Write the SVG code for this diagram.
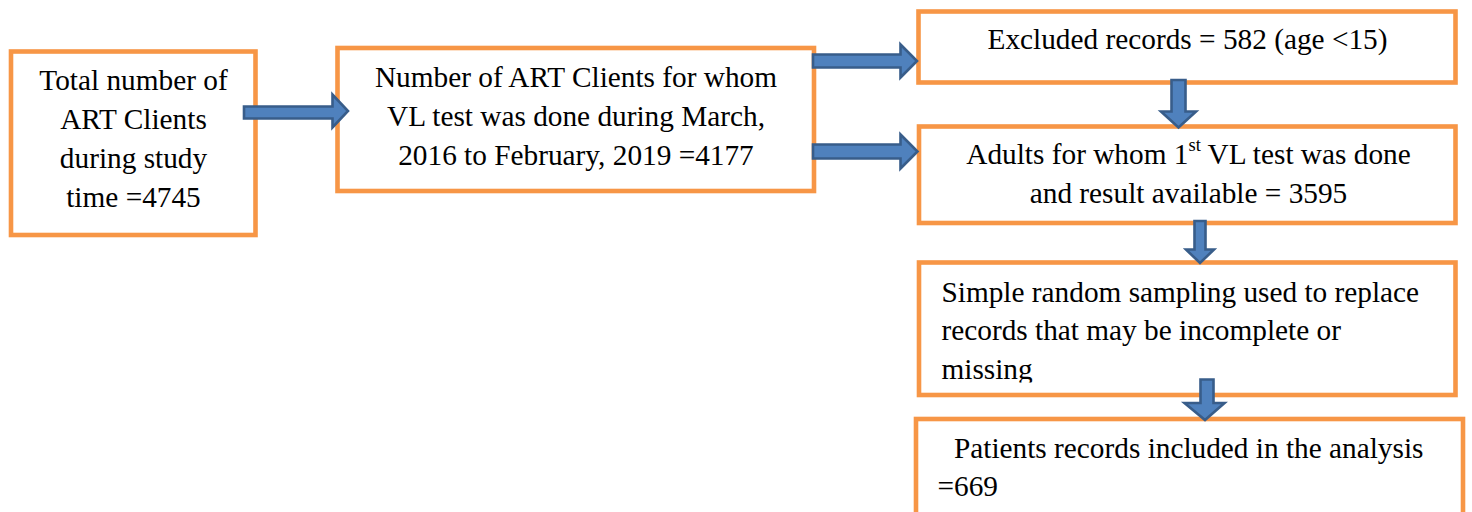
<svg xmlns="http://www.w3.org/2000/svg" width="1472" height="512" viewBox="0 0 1472 512">
<style>
.box{fill:#FFFFFF;stroke:#F79646;stroke-width:4.6}
.t{font-family:"Liberation Serif","Times New Roman",serif;font-size:29.3px;fill:#000000}
.c{text-anchor:middle}
.arr{fill:#4F81BD;stroke:#385D8A;stroke-width:2.6;stroke-linejoin:miter}
</style>
<defs>
<clipPath id="clip5"><rect x="921" y="264" width="533" height="118.5"/></clipPath>
</defs>
<rect width="1472" height="512" fill="#FFFFFF"/>
<g id="node-total">
<rect class="box" x="11" y="51.5" width="244.5" height="183.5"/>
<text class="t c"><tspan x="133.5" y="90">Total number of</tspan><tspan x="133.5" y="129">ART Clients</tspan><tspan x="133.5" y="168">during study</tspan><tspan x="133.5" y="207">time =4745</tspan></text>
</g>
<g id="node-vl">
<rect class="box" x="337.5" y="48" width="476.5" height="143"/>
<text class="t c"><tspan x="576" y="87">Number of ART Clients for whom</tspan><tspan x="576" y="126">VL test was done during March,</tspan><tspan x="576" y="165">2016 to February, 2019 =4177</tspan></text>
</g>
<g id="node-excluded">
<rect class="box" x="918.5" y="11.5" width="537" height="71"/>
<text class="t c" x="1187.5" y="49">Excluded records = 582 (age &lt;15)</text>
</g>
<g id="node-adults">
<rect class="box" x="919" y="126.5" width="536.5" height="96.5"/>
<text class="t c"><tspan x="1188.5" y="164">Adults for whom 1<tspan font-size="18.5" dy="-13">st</tspan><tspan dy="13"> VL test was done</tspan></tspan><tspan x="1188.5" y="203">and result available = 3595</tspan></text>
</g>
<g id="node-sampling">
<rect class="box" x="919" y="262.5" width="536.5" height="132.5"/>
<text class="t" clip-path="url(#clip5)"><tspan x="941.5" y="301.5">Simple random sampling used to replace</tspan><tspan x="941.5" y="340">records that may be incomplete or</tspan><tspan x="941.5" y="378.5">missing</tspan></text>
</g>
<g id="node-included">
<rect class="box" x="916" y="419" width="547" height="110"/>
<text class="t"><tspan x="954" y="457.5">Patients records included in the analysis</tspan><tspan x="937.5" y="496">=669</tspan></text>
</g>
<g id="connectors">
<polygon class="arr" points="244,106.5 332.5,106.5 332.5,94.5 348,111 332.5,127.5 332.5,118.5 244,118.5"/>
<polygon class="arr" points="813,54.5 900.5,54.5 900.5,44.5 917,61 900.5,77.5 900.5,67.5 813,67.5"/>
<polygon class="arr" points="813,144.5 900.5,144.5 900.5,134.5 917.5,151.5 900.5,168.5 900.5,158.5 813,158.5"/>
<polygon class="arr" points="1171.5,80 1185.5,80 1185.5,111.5 1196,111.5 1178.5,127.5 1161,111.5 1171.5,111.5"/>
<polygon class="arr" points="1194.5,221 1205.5,221 1205.5,249.5 1214,249.5 1200,263 1186,249.5 1194.5,249.5"/>
<polygon class="arr" points="1200.5,379.5 1213.5,379.5 1213.5,403 1224.5,403 1205,420 1184.5,403 1200.5,403"/>
</g>
</svg>
